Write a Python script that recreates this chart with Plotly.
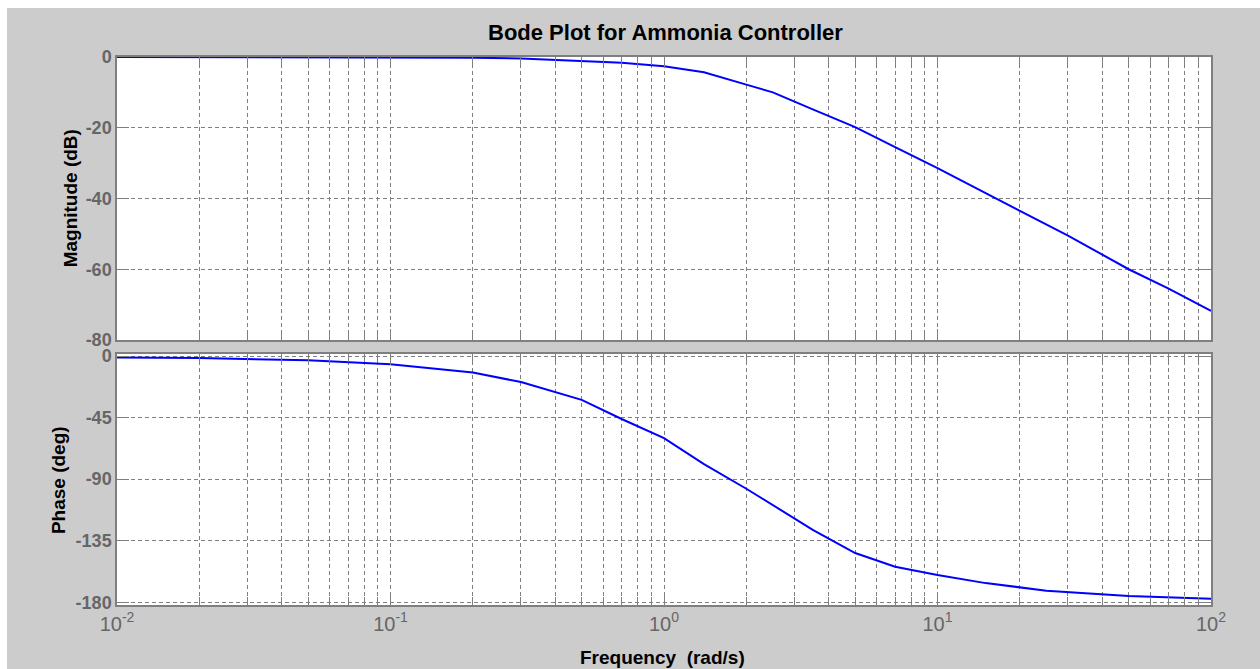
import plotly.graph_objects as go

# ---- data ----
freq_mag = [0.01, 0.05, 0.1, 0.2, 0.3, 0.5, 0.7, 1.0, 1.4, 2.0, 2.5, 3.5, 5.0, 7.0, 10, 15, 20, 30, 50, 70, 100]
mag_db   = [0.0, 0.0, -0.05, -0.2, -0.4, -1.0, -1.6, -2.6, -4.3, -7.8, -10.0, -14.8, -19.8, -25.5, -31.4, -38.5, -43.5, -50.5, -60.0, -65.5, -71.8]

freq_ph  = [0.01, 0.02, 0.05, 0.1, 0.2, 0.3, 0.5, 0.7, 1.0, 1.4, 2.0, 2.5, 3.5, 5.0, 7.0, 10, 15, 25, 50, 100]
phase_deg = [-1, -1.5, -3, -6, -12, -19, -32, -46, -60, -79, -97, -109, -127, -144, -154, -160, -166, -171.5, -175.5, -177.5]

x_tickvals = [0.01, 0.1, 1, 10, 100]
x_ticktext = ["10<sup>-2</sup>", "10<sup>-1</sup>", "10<sup>0</sup>", "10<sup>1</sup>", "10<sup>2</sup>"]
mag_ticks = [0, -20, -40, -60, -80]
phase_ticks = [0, -45, -90, -135, -180]

title_text = "Bode Plot for Ammonia Controller"
mag_label = "Magnitude (dB)"
phase_label = "Phase (deg)"
freq_label = "Frequency\u00a0\u00a0(rad/s)"

# ---- style ----
GREY_BG = "#cccccc"
LINE_C = "#7f7f7f"
GRID_C = "#808080"
LAB_FONT = dict(family="Liberation Sans", size=19, color="black")

fig = go.Figure()
fig.add_trace(go.Scatter(x=freq_mag, y=mag_db, mode="lines",
                         line=dict(color="#0000ff", width=2), xaxis="x", yaxis="y",
                         showlegend=False, hoverinfo="x+y"))
fig.add_trace(go.Scatter(x=freq_ph, y=phase_deg, mode="lines",
                         line=dict(color="#0000ff", width=2), xaxis="x2", yaxis="y2",
                         showlegend=False, hoverinfo="x+y"))

common_x = dict(
    type="log", range=[-2, 2], showline=True, linecolor=LINE_C, linewidth=1.5, mirror="ticks",
    ticks="inside", ticklen=11, tickcolor=LINE_C, tickwidth=1,
    tickmode="array", tickvals=x_tickvals, ticktext=x_ticktext,
    showgrid=True, gridcolor=GRID_C, griddash="4px,3px", gridwidth=1,
    minor=dict(dtick="D1", ticks="inside", ticklen=8, tickcolor=LINE_C,
               showgrid=True, gridcolor=GRID_C, griddash="4px,3px", gridwidth=1),
    zeroline=False, tickfont=dict(family="Liberation Sans", size=20, color="#666666"),
)
common_y = dict(
    showline=True, linecolor=LINE_C, linewidth=1.5, mirror="ticks",
    ticks="inside", ticklen=12, tickcolor=LINE_C, tickwidth=1,
    showgrid=True, gridcolor=GRID_C, griddash="4px,3px", gridwidth=1,
    zeroline=False, tickfont=dict(family="Liberation Sans", size=18, color="#666666", weight="bold"),
    tickmode="array",
)

fig.update_layout(
    width=1260, height=669,
    margin=dict(l=117, r=49, t=57, b=64, pad=0),
    paper_bgcolor=GREY_BG, plot_bgcolor="white",
    xaxis=dict(common_x, domain=[0, 1], anchor="y", showticklabels=False),
    yaxis=dict(common_y, domain=[0.4836, 1.0], anchor="x", range=[-80, 0],
               tickvals=mag_ticks, ticktext=[str(v) for v in mag_ticks]),
    xaxis2=dict(common_x, domain=[0, 1], anchor="y2", matches="x"),
    yaxis2=dict(common_y, domain=[0.0, 0.458], anchor="x2", range=[-182, 1.5],
                tickvals=phase_ticks, ticktext=[str(v) for v in phase_ticks]),
    showlegend=False,
)

# white page strips at top and left (outside the grey figure)
fig.add_shape(type="rect", xref="paper", yref="paper", x0=-0.2, x1=1.2, y0=1.0894, y1=1.3,
              fillcolor="white", line=dict(width=0), layer="above")
fig.add_shape(type="rect", xref="paper", yref="paper", x0=-0.2, x1=-0.10055, y0=-0.3, y1=1.3,
              fillcolor="white", line=dict(width=0), layer="above")

fig.add_annotation(text="<b>" + title_text + "</b>", xref="paper", yref="paper",
                   x=0.5017, y=1.0438, xanchor="center", yanchor="middle", showarrow=False,
                   font=dict(family="Liberation Sans", size=22, color="black"))
fig.add_annotation(text="<b>" + mag_label + "</b>", xref="paper", yref="paper",
                   x=-0.043, y=0.742, xanchor="center", yanchor="middle", showarrow=False,
                   textangle=-90, font=LAB_FONT)
fig.add_annotation(text="<b>" + phase_label + "</b>", xref="paper", yref="paper",
                   x=-0.0539, y=0.228, xanchor="center", yanchor="middle", showarrow=False,
                   textangle=-90, font=LAB_FONT)
fig.add_annotation(text="<b>" + freq_label + "</b>", xref="paper", yref="paper",
                   x=0.4982, y=-0.0949, xanchor="center", yanchor="middle", showarrow=False,
                   font=LAB_FONT)

fig.write_html("out.html")
